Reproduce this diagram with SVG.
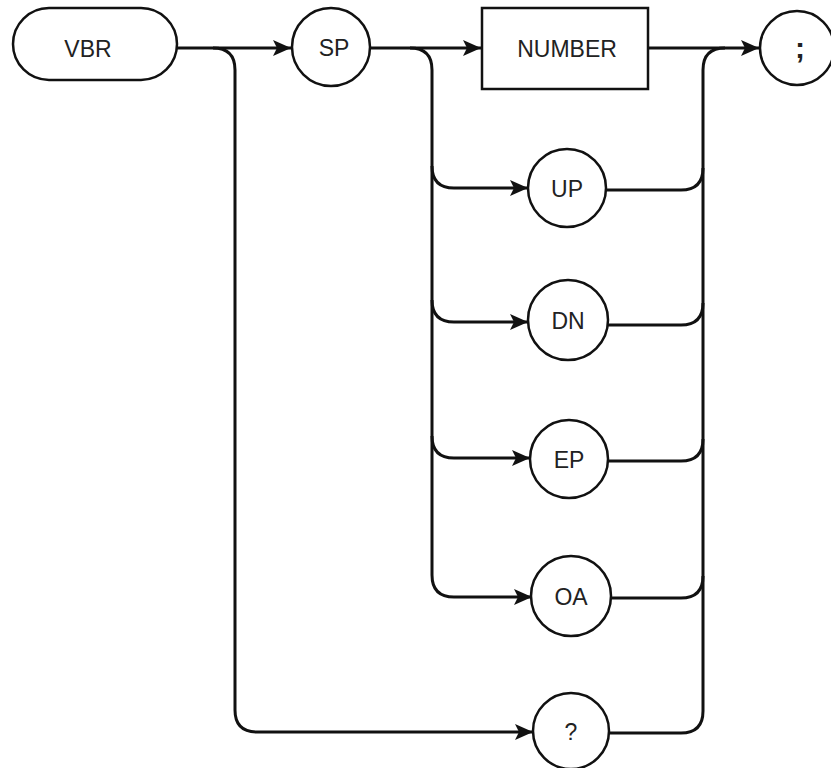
<svg xmlns="http://www.w3.org/2000/svg" width="831" height="768" viewBox="0 0 831 768">
  <style>
    .node { fill: #fff; stroke: #111; stroke-width: 2.5; }
    .lbl { font-family: "Liberation Sans", Arial, sans-serif; font-size: 23px; fill: #222; text-anchor: middle; }
    .semi { font-size: 30px; font-weight: bold; }
    .conn { fill: none; stroke: #111; stroke-width: 3; stroke-linejoin: round; }
  </style>
  <defs>
    <marker id="arr" markerUnits="userSpaceOnUse" markerWidth="20" markerHeight="18" refX="18" refY="8" orient="auto">
      <path d="M0,0 L18,8 L0,16 L4,8 z" fill="#111"/>
    </marker>
  </defs>
  <rect width="831" height="768" fill="#fff"/>
  <g id="connectors">
    <path class="conn" d="M177,48 H291" marker-end="url(#arr)"/>
    <path class="conn" d="M213,48 Q235,48 235,70 V710 Q235,732 257,732 H533" marker-end="url(#arr)"/>
    <path class="conn" d="M370,48 H481" marker-end="url(#arr)"/>
    <path class="conn" d="M410,48 Q432,48 432,70 V575 Q432,597 454,597 H532" marker-end="url(#arr)"/>
    <path class="conn" d="M432,166 Q432,188 454,188 H528" marker-end="url(#arr)"/>
    <path class="conn" d="M432,300 Q432,322 454,322 H528" marker-end="url(#arr)"/>
    <path class="conn" d="M432,436 Q432,458 454,458 H530" marker-end="url(#arr)"/>
    <path class="conn" d="M648,48 H759" marker-end="url(#arr)"/>
    <path class="conn" d="M608,733 H681 Q703,733 703,711 V70 Q703,48 725,48"/>
    <path class="conn" d="M606,190 H681 Q703,190 703,168"/>
    <path class="conn" d="M608,325 H681 Q703,325 703,303"/>
    <path class="conn" d="M608,461 H681 Q703,461 703,439"/>
    <path class="conn" d="M610,598 H681 Q703,598 703,576"/>
  </g>
  <g id="node-vbr">
    <rect class="node" x="13" y="8" width="164" height="72" rx="36" ry="36"/>
    <text class="lbl" x="88" y="57">VBR</text>
  </g>
  <g id="node-sp">
    <circle class="node" cx="331" cy="47" r="39"/>
    <text class="lbl" x="334" y="56">SP</text>
  </g>
  <g id="node-number">
    <rect class="node" x="482" y="8" width="166" height="81"/>
    <text class="lbl" x="567" y="57">NUMBER</text>
  </g>
  <g id="node-semicolon">
    <circle class="node" cx="797" cy="48" r="37"/>
    <text class="lbl semi" x="800" y="58">;</text>
  </g>
  <g id="node-up">
    <circle class="node" cx="567" cy="188" r="39"/>
    <text class="lbl" x="567" y="197">UP</text>
  </g>
  <g id="node-dn">
    <circle class="node" cx="568" cy="320" r="40"/>
    <text class="lbl" x="568" y="329">DN</text>
  </g>
  <g id="node-ep">
    <circle class="node" cx="569" cy="459" r="39"/>
    <text class="lbl" x="569" y="468">EP</text>
  </g>
  <g id="node-oa">
    <circle class="node" cx="571" cy="596" r="40"/>
    <text class="lbl" x="571" y="605">OA</text>
  </g>
  <g id="node-query">
    <circle class="node" cx="571" cy="731" r="38"/>
    <text class="lbl" x="571" y="740">?</text>
  </g>
</svg>
